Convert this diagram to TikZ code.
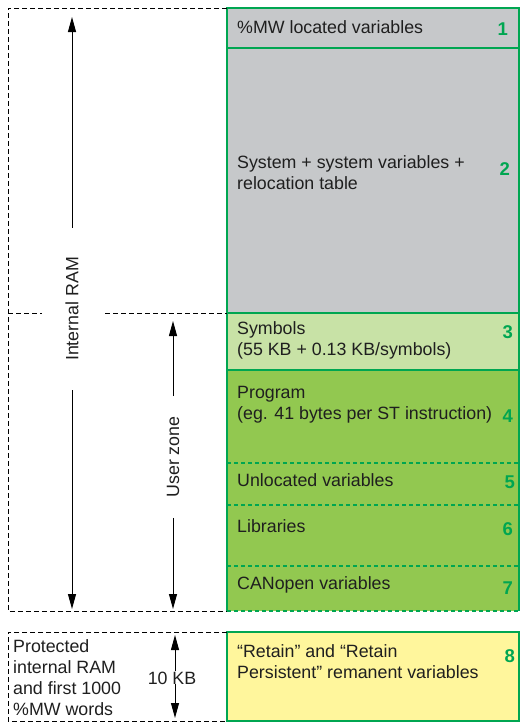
\documentclass[tikz,border=0pt]{standalone}
\usepackage{fontspec}
\setmainfont{Liberation Sans}
\usetikzlibrary{arrows.meta}

\definecolor{sgreen}{RGB}{0,166,81}
\definecolor{memgray}{RGB}{198,200,202}
\definecolor{lightgreen}{RGB}{200,226,166}
\definecolor{midgreen}{RGB}{146,200,80}
\definecolor{paleyellow}{RGB}{255,246,156}

\tikzset{
    zone/.style={line width=0.9pt, dash pattern=on 5pt off 3pt},
    rowline/.style={sgreen, line width=1.4pt},
    rowsep/.style={sgreen, line width=1.1pt, dash pattern=on 4pt off 3pt},
    rowtext/.style={anchor=base west, inner sep=0pt, align=left, text=black!88,
        font=\fontsize{17.8}{21}\selectfont},
    rownum/.style={anchor=base east, inner sep=0pt, text=sgreen,
        font=\fontsize{18.5}{21}\selectfont\bfseries},
    span/.style={-{Triangle[length=15pt,width=8pt]}, line width=1pt},
    spanlabel/.style={rotate=90, inner ysep=0pt, text=black!88,
        font=\fontsize{17.8}{21}\selectfont},
}

\begin{document}
\begin{tikzpicture}[x=1pt, y=-1pt]
    \useasboundingbox (0, 0) rectangle (520, 723);

    % memory column (multi-line texts sit on their last baseline)
    \begin{scope}
        \fill[memgray] (227, 8) rectangle (519, 313);
        \fill[lightgreen] (227, 313) rectangle (519, 370);
        \fill[midgreen] (227, 370) rectangle (519, 611);
        \draw[rowline] (227, 611) -- (227, 8) -- (519, 8) -- (519, 611);
        \draw[rowline] (227, 48) -- (519, 48) (227, 313) -- (519, 313) (227, 370) -- (519, 370);
        \draw[rowsep] (227, 463) -- (519, 463) (227, 505) -- (519, 505)
            (227, 566) -- (519, 566) (227, 611) -- (519, 611);

        \node[rowtext] (t1) at (237, 33) {\%MW located variables};
        \node[rownum] (n1) at (508, 35) {1};
        \node[rowtext] (t2) at (237, 189) {System + system variables +\\relocation table};
        \node[rownum] (n2) at (510, 175) {2};
        \node[rowtext] (t3) at (237, 355) {Symbols\\(55 KB + 0.13 KB/symbols)};
        \node[rownum] (n3) at (513, 338) {3};
        \node[rowtext] (t4) at (237, 419) {Program\\(eg. 41 bytes per ST instruction)};
        \node[rownum] (n4) at (513, 422) {4};
        \node[rowtext] (t5) at (237, 486) {Unlocated variables};
        \node[rownum] (n5) at (515, 488) {5};
        \node[rowtext] (t6) at (237, 532) {Libraries};
        \node[rownum] (n6) at (513, 535) {6};
        \node[rowtext] (t7) at (237, 589) {CANopen variables};
        \node[rownum] (n7) at (513, 594) {7};
    \end{scope}

    % internal RAM and user zone
    \begin{scope}
        \draw[zone] (227, 8) -- (8, 8) -- (8, 611) -- (227, 611);
        \draw[zone] (8, 313) -- (42, 313) (105, 313) -- (227, 313);

        \node[spanlabel, inner xsep=29pt] (iram) at (72, 309) {Internal RAM};
        \coordinate (iramtop) at (72, 17);
        \coordinate (irambot) at (72, 609);
        \draw[span] (iram.east) -- (iramtop);
        \draw[span] (iram.west) -- (irambot);

        \node[spanlabel, inner xsep=20pt] (uzone) at (173, 457) {User zone};
        \coordinate (uzonetop) at (173, 321);
        \coordinate (uzonebot) at (173, 609);
        \draw[span] (uzone.east) -- (uzonetop);
        \draw[span] (uzone.west) -- (uzonebot);
    \end{scope}

    % protected zone
    \begin{scope}
        \fill[paleyellow] (227, 632) rectangle (519, 721);
        \draw[rowline] (227, 632) rectangle (519, 721);
        \draw[zone] (227, 632) -- (8, 632) -- (8, 721) -- (227, 721);

        \node[rowtext] (t8) at (237, 678) {“Retain” and “Retain\\Persistent” remanent variables};
        \node[rownum] (n8) at (515, 662) {8};

        \node[rowtext] (prot) at (13, 715) {Protected\\internal RAM\\and first 1000\\\%MW words};
        \node[rowtext, anchor=base] (tenkb) at (172, 684) {10 KB};
        \coordinate (kbtop) at (175, 635);
        \coordinate (kbbot) at (175, 718);
        \draw[span] (tenkb.north -| kbtop) -- (kbtop);
        \draw[span] (tenkb.south -| kbbot) -- (kbbot);
    \end{scope}
\end{tikzpicture}
\end{document}
